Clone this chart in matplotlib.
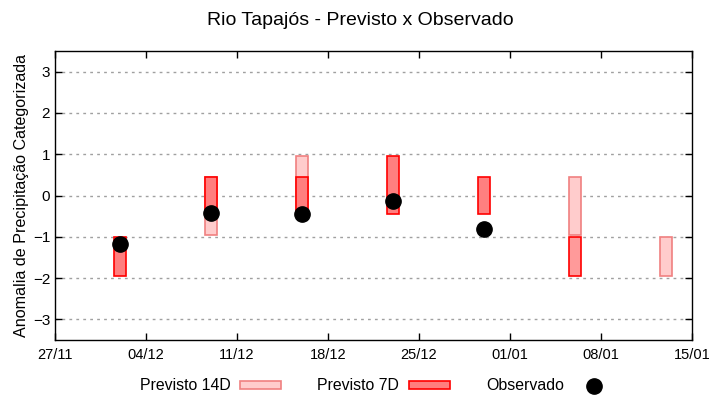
import numpy as np
import matplotlib
matplotlib.use("Agg")
import matplotlib.pyplot as plt
import matplotlib.dates as mdates
from matplotlib.patches import Patch
from matplotlib.lines import Line2D

plt.rcParams['font.family'] = ['Liberation Sans', 'DejaVu Sans']

# dados
datas = np.array(['2023-12-02', '2023-12-09', '2023-12-16', '2023-12-23',
                  '2023-12-30', '2024-01-06', '2024-01-13'], dtype='datetime64[D]')
p14_inf = [np.nan, -0.95, -0.45, np.nan, np.nan, -0.95, -1.95]
p14_sup = [np.nan, 0.45, 0.95, np.nan, np.nan, 0.45, -1.0]
p7_inf = [-1.95, -0.45, -0.45, -0.45, -0.45, -1.95, np.nan]
p7_sup = [-1.0, 0.45, 0.45, 0.95, 0.45, -1.0, np.nan]
observado = [-1.18, -0.43, -0.46, -0.13, -0.82, np.nan, np.nan]
cor_7d = ['#ff7f7f', '#ff7f7f', '#ff7f7f', '#ff7f7f', '#ff7f7f', '#ff9a9a', '#ff7f7f']

fig = plt.figure(figsize=(7.2, 4), dpi=100)
ax = fig.add_axes([55 / 720, 1 - 340 / 400, 637 / 720, 289 / 400])

x = mdates.date2num(datas.astype('datetime64[s]').astype(object))
largura = 0.9

h14 = np.array(p14_sup) - np.array(p14_inf)
ax.bar(x, h14, bottom=p14_inf, width=largura, color='#ffcccc',
       edgecolor='#f08080', linewidth=1.2, zorder=2)

h7 = np.array(p7_sup) - np.array(p7_inf)
ax.bar(x, h7, bottom=p7_inf, width=largura, color=cor_7d,
       edgecolor='red', linewidth=1.2, zorder=3)

ax.plot(x, observado, 'o', color='black', markersize=11, zorder=4)

ax.set_ylim(-3.5, 3.5)
ax.set_yticks([-3, -2, -1, 0, 1, 2, 3])
ax.set_xlim(mdates.datestr2num('2023-11-27'), mdates.datestr2num('2024-01-15'))
ticks = np.arange(np.datetime64('2023-11-27'), np.datetime64('2024-01-16'), 7)
ax.set_xticks(mdates.date2num(ticks.astype('datetime64[s]').astype(object)))
ax.xaxis.set_major_formatter(mdates.DateFormatter('%d/%m'))

ax.grid(axis='y', linestyle=(0, (2, 3)), color='#a0a0a0', linewidth=1)
ax.set_axisbelow(True)
ax.tick_params(direction='in', top=True, right=True, length=5, labelsize=11, width=1)
ax.tick_params(axis='x', labelsize=10.5, pad=6)
for s in ax.spines.values():
    s.set_linewidth(1)

ax.set_ylabel('Anomalia de Precipitação Categorizada', fontsize=11.6, labelpad=3)
fig.suptitle('Rio Tapajós - Previsto x Observado', fontsize=14, y=0.97)

handles = [Patch(facecolor='#ffcccc', edgecolor='#f08080', linewidth=1.2),
           Patch(facecolor='#ff7f7f', edgecolor='red', linewidth=1.2),
           Line2D([], [], marker='o', color='black', linestyle='none', markersize=11)]
fig.legend(handles, ['Previsto 14D', 'Previsto 7D', 'Observado'], loc='center',
           bbox_to_anchor=(0.524, 0.035), ncol=3, frameon=False, markerfirst=False,
           fontsize=11.4, handlelength=2.6, handleheight=0.45, handletextpad=0.6,
           columnspacing=2.3)

fig.savefig('out.png', dpi=100)
